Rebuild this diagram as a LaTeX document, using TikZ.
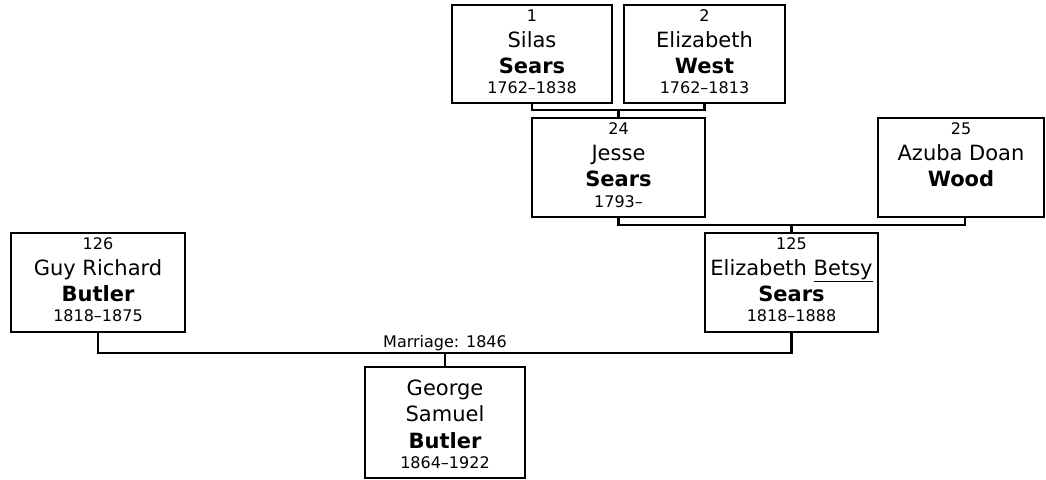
\documentclass[tikz,border=0pt]{standalone}
\usepackage{fontspec}
\setmainfont{DejaVu Sans}
\newcommand\fnum{\fontsize{16}{16}\selectfont}
\newcommand\fnm{\fontsize{21}{21}\selectfont}
\newcommand\fsur{\fontsize{21}{21}\selectfont\bfseries}
\newcommand\pline[2]{\vskip#1\hbox to 0pt{\hss\smash{#2}\hss}}
\newcommand\ptext[2]{\vbox to #1{\offinterlineskip #2\vss}}
\begin{document}
\begin{tikzpicture}[x=1pt,y=-1pt,
  person/.style={draw, line width=2.6pt, rectangle, inner sep=0pt, fill=white},
  link/.style={line width=2.7pt, line join=miter}]
\useasboundingbox (0,0) rectangle (1046,479);
\fill[white] (0,0) rectangle (1046,479);
\node[person, minimum width=160pt, minimum height=98pt] (silas) at (532,54)
  {\ptext{98pt}{\pline{16pt}{\fnum 1}\pline{26pt}{\fnm Silas}\pline{26pt}{\fsur Sears}\pline{20.5pt}{\fnum 1762–1838}}};
\node[person, minimum width=161pt, minimum height=98pt] (west) at (704.5,54)
  {\ptext{98pt}{\pline{16pt}{\fnum 2}\pline{26pt}{\fnm Elizabeth}\pline{26pt}{\fsur West}\pline{20.5pt}{\fnum 1762–1813}}};
\node[person, minimum width=173pt, minimum height=99pt] (jesse) at (618.5,167.5)
  {\ptext{99pt}{\pline{16.5pt}{\fnum 24}\pline{26pt}{\fnm Jesse}\pline{26pt}{\fsur Sears}\pline{20.5pt}{\fnum 1793–}}};
\node[person, minimum width=166pt, minimum height=99pt] (wood) at (961,167.5)
  {\ptext{99pt}{\pline{16.5pt}{\fnum 25}\pline{26pt}{\fnm Azuba Doan}\pline{25.5pt}{\fsur Wood}}};
\node[person, minimum width=173pt, minimum height=99pt] (betsy) at (791.5,282.5)
  {\ptext{99pt}{\pline{16.5pt}{\fnum 125}\pline{26pt}{\fnm Elizabeth \underline{Betsy}}\pline{26pt}{\fsur Sears}\pline{20pt}{\fnum 1818–1888}}};
\node[person, minimum width=174pt, minimum height=99pt] (guy) at (98,282.5)
  {\ptext{99pt}{\pline{16.5pt}{\fnum 126}\pline{26pt}{\fnm Guy Richard}\pline{26pt}{\fsur Butler}\pline{20pt}{\fnum 1818–1875}}};
\node[person, minimum width=160pt, minimum height=111pt] (george) at (445,422.5)
  {\ptext{111pt}{\pline{28pt}{\fnm George}\pline{26.5pt}{\fnm Samuel}\pline{26.5pt}{\fsur Butler}\pline{20pt}{\fnum 1864–1922}}};
\coordinate (m1) at (0,110);
\coordinate (m2) at (0,225);
\coordinate (m3) at (0,353);
\draw[link] (silas.south) -- (silas.south |- m1) -- (west.south |- m1) -- (west.south);
\draw[link] (jesse.north) -- (jesse.north |- m1);
\draw[link] (jesse.south) -- (jesse.south |- m2) -- ([xshift=4pt]wood.south |- m2) -- ([xshift=4pt]wood.south);
\draw[link] (betsy.north) -- (betsy.north |- m2);
\draw[link] (guy.south) -- (guy.south |- m3) -- (betsy.south |- m3) -- (betsy.south);
\draw[link] (george.north) -- (george.north |- m3);
\node[anchor=base, inner sep=0pt, font=\fnum] (marr) at (445,347) {Marriage: 1846};
\end{tikzpicture}
\end{document}
